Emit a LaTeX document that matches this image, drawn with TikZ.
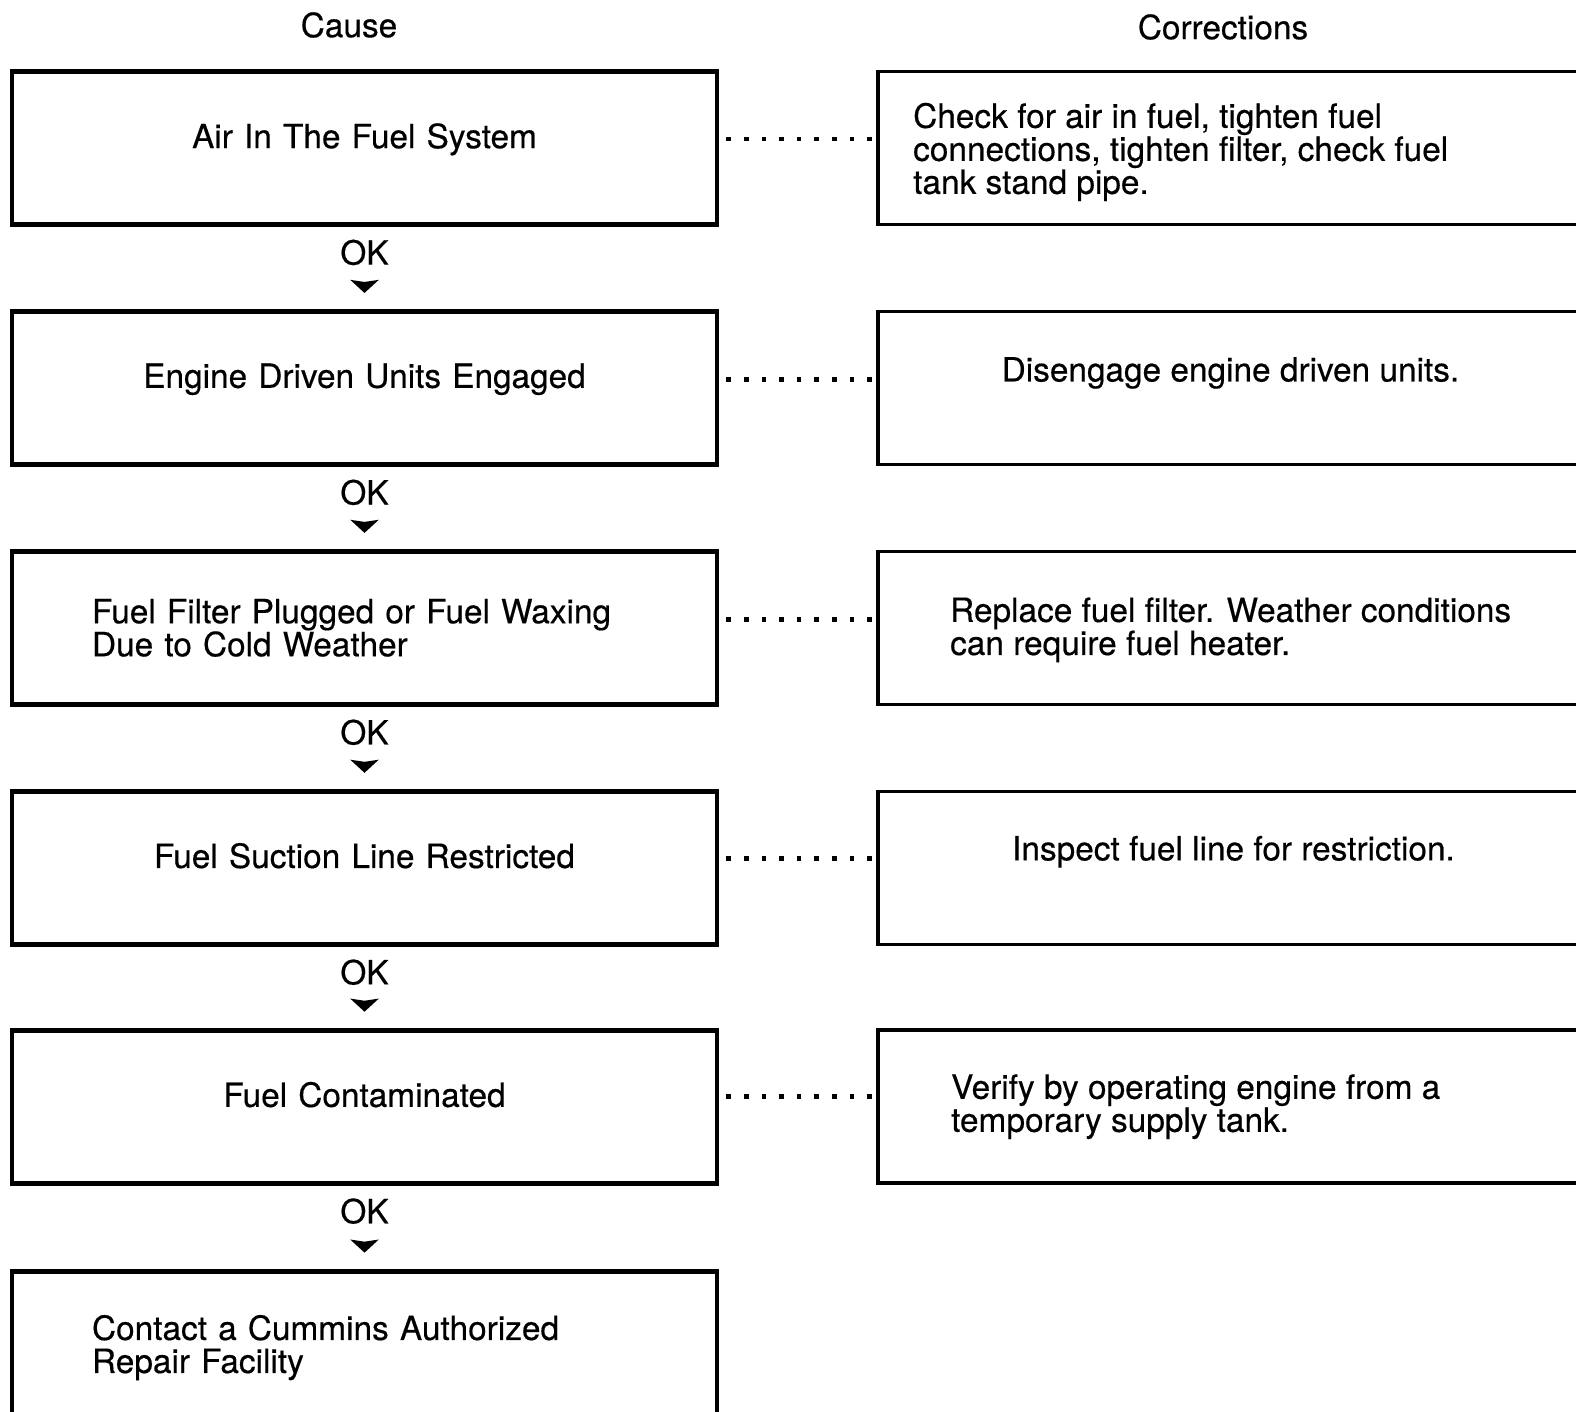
\documentclass[tikz,border=0pt]{standalone}
\usepackage{fontspec}
\setmainfont{TeX Gyre Heros}[UprightFeatures={FakeBold=0.4}]
\usetikzlibrary{positioning, arrows.meta}

\tikzset{
    causebox/.style={draw, line width=1.4pt, text width=5.45cm,
        inner xsep=0.8cm, inner ysep=0pt, minimum height=1.53cm, align=center},
    oneline/.style={text depth=7pt},
    fixbox/.style={draw, line width=1pt, minimum width=7.5cm, minimum height=1.53cm},
    fixtext/.style={inner sep=0pt, align=left},
    oklabel/.style={inner sep=0pt},
    okarrow/.style={line width=1.4pt, shorten <=0.2cm, shorten >=0.16cm,
        -{Stealth[length=0.13cm, width=0.28cm, inset=0.02cm]}},
    dotlink/.style={line width=1.4pt, dash pattern=on 1.3pt off 3.7pt, dash phase=3pt}
}

\begin{document}
\begin{tikzpicture}[font=\fontsize{9.5}{9.4}\selectfont]
    \clip (0,0) rectangle (15.76,-14.11);

    % column headings
    \node (cause) at (3.49,-0.25) {Cause};
    \node (corr) at (12.23,-0.27) {Corrections};

    % causes, top to bottom
    \node[causebox, oneline] (c1) at (3.645,-1.48) {Air In The Fuel System};
    \node[oklabel, below=0.12cm of c1] (ok1) {OK};
    \node[causebox, oneline,
        below=0.82cm of c1
        ] (c2) {Engine Driven Units Engaged};
    \node[oklabel, below=0.12cm of c2] (ok2) {OK};
    \node[causebox, align=left,
        below=0.82cm of c2
        ] (c3) {Fuel Filter Plugged or Fuel Waxing\\Due to Cold Weather};
    \node[oklabel, below=0.12cm of c3] (ok3) {OK};
    \node[causebox, oneline,
        below=0.82cm of c3
        ] (c4) {Fuel Suction Line Restricted};
    \node[oklabel, below=0.12cm of c4] (ok4) {OK};
    \node[causebox, oneline,
        below=0.81cm of c4
        ] (c5) {Fuel Contaminated};
    \node[oklabel, below=0.12cm of c5] (ok5) {OK};
    \node[causebox, align=left,
        below=0.83cm of c5
        ] (c6) {Contact a Cummins Authorized\\Repair Facility};

    % corrections, one beside each cause
    \node[fixbox, right=1.57cm of c1] (f1) {};
    \node[fixbox, right=1.57cm of c2] (f2) {};
    \node[fixbox, right=1.57cm of c3] (f3) {};
    \node[fixbox, right=1.57cm of c4] (f4) {};
    \node[fixbox, right=1.57cm of c5] (f5) {};

    \node[fixtext] (t1) at ([xshift=0.36cm, yshift=-0.04cm]f1.west) [anchor=west]
        {Check for air in fuel, tighten fuel\\connections, tighten filter, check fuel\\tank stand pipe.};
    \node[fixtext] (t2) at ([xshift=3.54cm, yshift=0.15cm]f2.west)
        {Disengage engine driven units.};
    \node[fixtext] (t3) at ([xshift=0.73cm, yshift=-0.02cm]f3.west) [anchor=west]
        {Replace fuel filter. Weather conditions\\can require fuel heater.};
    \node[fixtext] (t4) at ([xshift=3.57cm, yshift=0.16cm]f4.west)
        {Inspect fuel line for restriction.};
    \node[fixtext, right=0.74cm of f5.west] (t5)
        {Verify by operating engine from a\\temporary supply tank.};

    \draw[okarrow]
        (ok1) edge (c2)
        (ok2) edge (c3)
        (ok3) edge (c4)
        (ok4) edge (c5)
        (ok5) edge (c6)
        ;

    \draw[dotlink]
        ([yshift=0.09cm]c1.east) edge ([yshift=0.09cm]f1.west)
        ([yshift=0.08cm]c2.east) edge ([yshift=0.08cm]f2.west)
        ([yshift=0.08cm]c3.east) edge ([yshift=0.08cm]f3.west)
        ([yshift=0.09cm]c4.east) edge ([yshift=0.09cm]f4.west)
        ([yshift=0.1cm]c5.east) edge ([yshift=0.1cm]f5.west)
        ;
\end{tikzpicture}
\end{document}
